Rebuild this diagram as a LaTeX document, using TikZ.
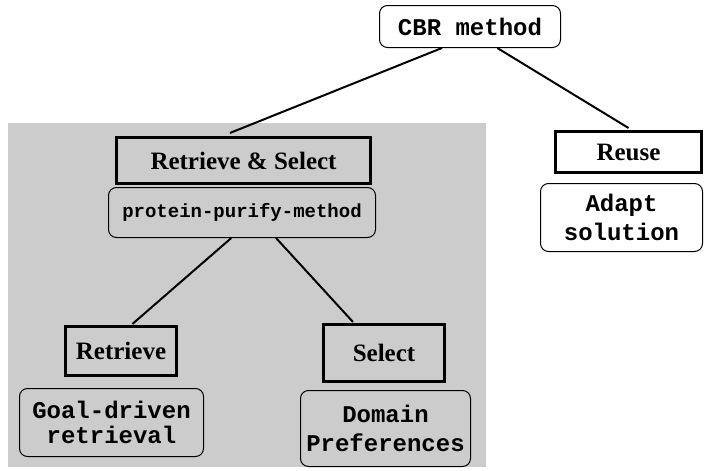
\documentclass[tikz,border=0pt]{standalone}
\usepackage{fontspec}
\setmainfont{Liberation Serif}
\setmonofont{Liberation Mono}
\usetikzlibrary{calc}
\definecolor{panelgrey}{RGB}{204,204,204}
\tikzset{
  headbox/.style={draw, line width=3pt, rectangle, inner sep=0pt,
    font=\bfseries\fontsize{25}{28}\selectfont},
  codebox/.style={draw, line width=1pt, rounded corners=8pt, inner sep=0pt,
    align=center, font=\ttfamily\bfseries\fontsize{24}{29}\selectfont},
  link/.style={line width=2pt}
}
\begin{document}
\begin{tikzpicture}[x=1pt,y=-1pt]
\useasboundingbox (0,0) rectangle (704,471);
\fill[panelgrey] (8,123) rectangle (486,467);

\node[codebox, minimum width=181pt, minimum height=42pt] (cbr) at (470,26.5) {CBR method};
\node[headbox, minimum width=254pt, minimum height=46pt] (rs) at (243.5,160.5) {Retrieve \& Select};
\node[codebox, minimum width=267pt, minimum height=50pt, font=\ttfamily\bfseries\fontsize{19}{23}\selectfont] (ppm) at (242,212.5) {protein-purify-method};
\node[codebox, minimum width=184pt, minimum height=68pt, font=\ttfamily\bfseries\fontsize{24}{25}\selectfont] (goal) at (111.5,422.5) {Goal-driven\\retrieval};
\node[headbox, minimum width=111pt, minimum height=49pt] (ret) at (121,351) {Retrieve};
\node[headbox, minimum width=121pt, minimum height=57pt] (sel) at (384,353) {Select};
\node[codebox, minimum width=170pt, minimum height=76pt] (dom) at (385.5,428.5) {Domain~\\Preferences};
\node[headbox, minimum width=146pt, minimum height=41pt] (reuse) at (628.5,152) {Reuse};
\node[codebox, minimum width=162pt, minimum height=68pt] (adapt) at (621.5,217.5) {Adapt\\solution};

\draw[link] ($(cbr.south west)!0.346!(cbr.south east)$) -- ($(rs.north west)!0.447!(rs.north east)+(0,-3)$);
\draw[link] ($(cbr.south west)!0.65!(cbr.south east)$) -- ($(reuse.north)+(0,-2)$);
\draw[link] ($(ppm.south west)!0.46!(ppm.south east)$) -- ($(ret.north west)!0.6!(ret.north east)+(0,-1)$);
\draw[link] ($(ppm.south west)!0.627!(ppm.south east)$) -- ($(sel.north west)!0.25!(sel.north east)+(0,-1)$);
\end{tikzpicture}
\end{document}
